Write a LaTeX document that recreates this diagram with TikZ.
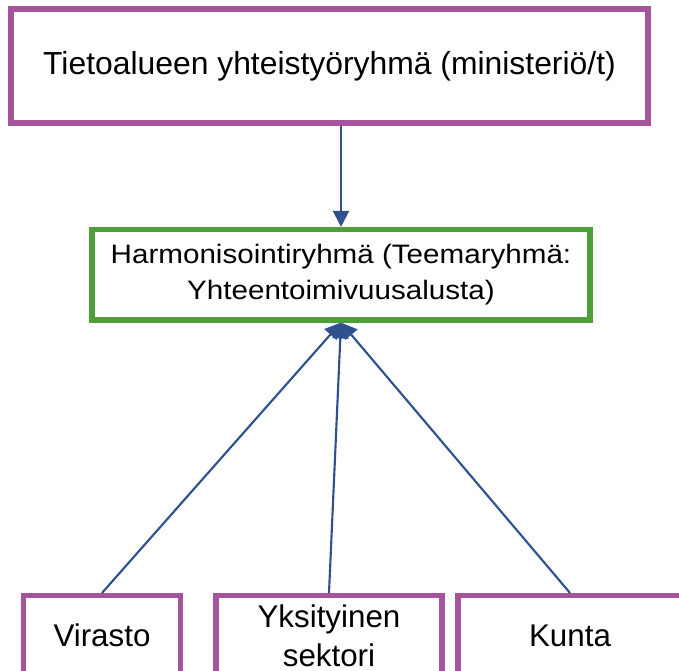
\documentclass[tikz,border=0pt]{standalone}
\usepackage{fontspec}
\setmainfont{Liberation Sans}
\usepackage{graphicx}
\usetikzlibrary{arrows.meta}

\definecolor{boxpurple}{RGB}{165,83,154}
\definecolor{boxgreen}{RGB}{78,158,58}
\definecolor{linkblue}{RGB}{47,82,143}

\begin{document}
\begin{tikzpicture}[x=0.75pt,y=-0.75pt,
    org_node/.style={rectangle,draw=boxpurple,line width=3.8pt,fill=white,inner sep=0pt,align=center},
    group_node/.style={rectangle,draw=boxgreen,line width=3.8pt,fill=white,inner sep=0pt,align=center},
    link/.style={draw=linkblue,line width=1.6pt,-{Triangle[length=12pt,width=12pt]}}]
    \useasboundingbox (0,0) rectangle (679,671);
	\node[org_node,minimum width=477.75pt,minimum height=85.5pt,font=\fontsize{23.9}{28}\selectfont] (yhteis) at (329.5,66) {Tietoalueen yhteistyöryhmä (ministeriö/t)};
	\node[group_node,minimum width=373.5pt,minimum height=67.9pt] (harmon) at (341,274.75) {\scalebox{1.11}[1]{\fontsize{20}{27}\selectfont\begin{tabular}{@{}c@{}}Harmonisointiryhmä (Teemaryhmä:\\Yhteentoimivuusalusta)\end{tabular}}};
	\node[org_node,minimum width=117.75pt,minimum height=60.4pt,font=\fontsize{23.5}{29}\selectfont] (virasto) at (102,635.75) {Virasto};
	\node[org_node,minimum width=169.5pt,minimum height=60.4pt,font=\fontsize{23.5}{29}\selectfont] (yksit) at (329,635.75) {Yksityinen\\sektori};
	\node[org_node,minimum width=168pt,minimum height=60.4pt,font=\fontsize{23.5}{29}\selectfont] (kunta) at (570,635.75) {Kunta};
    \draw[link] (yhteis.south -| harmon.north) -- (harmon.north);
    \draw[link] (virasto.north) -- (harmon.south);
    \draw[link] (yksit.north) -- (harmon.south);
    \draw[link] (kunta.north) -- (harmon.south);
\end{tikzpicture}
\end{document}
